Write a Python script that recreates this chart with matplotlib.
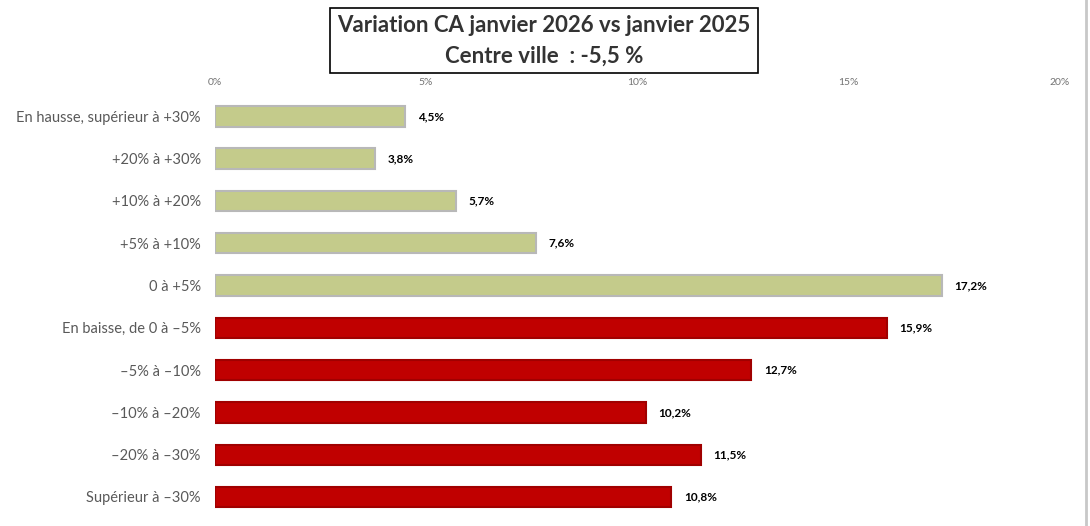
import numpy as np
import matplotlib
matplotlib.use("Agg")
from matplotlib import pyplot as plt
from matplotlib.patches import Rectangle

plt.rcParams['font.family'] = ['Lato', 'DejaVu Sans']

categories = ["En hausse, supérieur à +30%", "+20% à +30%", "+10% à +20%",
              "+5% à +10%", "0 à +5%", "En baisse, de 0 à –5%", "–5% à –10%",
              "–10% à –20%", "–20% à –30%", "Supérieur à –30%"]
values = [4.5, 3.8, 5.7, 7.6, 17.2, 15.9, 12.7, 10.2, 11.5, 10.8]
ticks = [0, 5, 10, 15, 20]
title1 = "Variation CA janvier 2026 vs janvier 2025"
title2 = "Centre ville  : -5,5 %"

green = "#c4cb8b"
red = "#c00000"
colors = [green] * 5 + [red] * 5
edges = ["#b8b8b8"] * 5 + ["#a00000"] * 5

fig = plt.figure(figsize=(10.9, 5.26), dpi=100)
ax = fig.add_axes([0.197, 0.015, 0.7755, 0.804])

y = np.arange(len(categories))
ax.barh(y, values, height=0.48, color=colors, edgecolor=edges, linewidth=1.5)
for yi, v in zip(y, values):
    ax.text(v + 0.3, yi, f"{v:.1f}%".replace(".", ","), va="center", ha="left",
            fontsize=8.5, fontweight="bold", color="#000000")

ax.set_xlim(0, 20)
ax.set_ylim(len(categories) - 0.5, -0.5)
ax.set_yticks(y)
ax.set_yticklabels(categories, fontsize=10.5, color="#595959")
ax.set_xticks(ticks)
ax.set_xticklabels([f"{t}%" for t in ticks], fontsize=7.5, color="#737373")
ax.xaxis.tick_top()
ax.tick_params(axis="both", length=0)
ax.tick_params(axis="x", pad=6)
ax.tick_params(axis="y", pad=10)
for s in ax.spines.values():
    s.set_visible(False)

# title box
fig.patches.append(Rectangle((330 / 1090, 1 - 73 / 526), 428 / 1090, 65 / 526,
                             transform=fig.transFigure, fill=False,
                             edgecolor="#000000", linewidth=1.2))
fig.text(544 / 1090, 1 - 26 / 526, title1, ha="center", va="center",
         fontsize=16, fontweight="bold", color="#333333")
fig.text(544 / 1090, 1 - 56 / 526, title2, ha="center", va="center",
         fontsize=16, fontweight="bold", color="#333333")

# outer frame shadow
fig.add_artist(plt.Line2D([1086 / 1090, 1086 / 1090], [0, 1], color="#c8c8c8",
                          linewidth=2, transform=fig.transFigure))

fig.savefig("out.png", dpi=100)
